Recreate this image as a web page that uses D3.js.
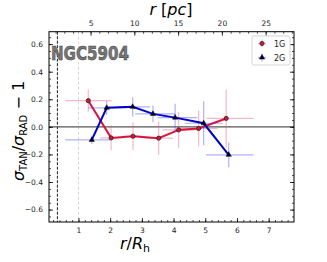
<!DOCTYPE html>
<html>
<head>
<meta charset="utf-8">
<script src="https://cdn.jsdelivr.net/npm/d3@7"></script>
<style>
  body { margin: 0; background: #fff; }
  text { font-family: "DejaVu Sans", sans-serif; }
</style>
</head>
<body>
<div id="chart"></div>
<script>
// r/Rh positions, values and errors for the two populations
const x1G = [1.31, 2.03, 2.72, 3.53, 4.16, 4.79, 5.66];
const y1G = [0.19, -0.08, -0.068, -0.082, -0.022, -0.012, 0.061];
const xlo1G = [0.73, 0.35, 0.3, 0.45, 0.5, 0.6, 0.62];
const xhi1G = [0.74, 0.35, 0.3, 0.45, 0.5, 0.6, 0.86];
const ye1G = [0.08, 0.09, 0.1, 0.12, 0.13, 0.13, 0.21];

const x2G = [1.42, 1.89, 2.71, 3.35, 4.05, 4.95, 5.74];
const y2G = [-0.095, 0.138, 0.145, 0.094, 0.067, 0.026, -0.203];
const xlo2G = [0.84, 0.58, 0.45, 0.56, 0.55, 0.6, 0.72];
const xhi2G = [0.6, 0.64, 0.55, 0.7, 0.7, 0.6, 0.78];
const ye2G = [0.03, 0.05, 0.07, 0.06, 0.1, 0.16, 0.09];

const xTicks = [1, 2, 3, 4, 5, 6, 7];
const pcTicks = [5, 10, 15, 20, 25];
const yTicks = [-0.6, -0.4, -0.2, 0.0, 0.2, 0.4, 0.6];
const Rh = 3.62;   // pc per half-light radius
const rCore = 0.335; // dashed black line

const W = 327, H = 262;
const mLeft = 49, mRight = 294, mTop = 31.7, mBottom = 222;

const svg = d3.select("#chart").append("svg")
    .attr("width", W).attr("height", H);

const x = d3.scaleLinear().domain([0.07, 7.8]).range([mLeft, mRight]);
const xpc = d3.scaleLinear().domain([0.07 * Rh, 7.8 * Rh]).range([mLeft, mRight]);
const y = d3.scaleLinear().domain([-0.69, 0.69]).range([mBottom, mTop]);

// minor tick helper
function minor(g, scale, step, orient) {
    let [a, b] = scale.domain();
    let vals = d3.range(Math.ceil(a / step) * step, b, step);
    let ax = orient(scale).tickValues(vals).tickSize(-2).tickFormat("");
    g.call(ax);
    g.select(".domain").remove();
    g.selectAll("line").attr("stroke", "#000").attr("stroke-width", 0.7);
}

// reference lines
svg.append("line")
    .attr("x1", x(1)).attr("x2", x(1)).attr("y1", mTop).attr("y2", mBottom)
    .attr("stroke", "#ccc").attr("stroke-width", 0.8).attr("stroke-dasharray", "3,2");
svg.append("line")
    .attr("x1", x(rCore)).attr("x2", x(rCore)).attr("y1", mTop).attr("y2", mBottom)
    .attr("stroke", "#000").attr("stroke-width", 0.9).attr("stroke-dasharray", "3,1.5");
svg.append("line")
    .attr("x1", mLeft).attr("x2", mRight).attr("y1", y(0)).attr("y2", y(0))
    .attr("stroke", "#555").attr("stroke-width", 1.4);

// title text
svg.append("text")
    .attr("x", 51).attr("y", 59.5)
    .attr("font-size", 20).attr("font-weight", "bold")
    .attr("textLength", 78).attr("lengthAdjust", "spacingAndGlyphs")
    .attr("fill", "#777").attr("stroke", "#444").attr("stroke-width", 0.6)
    .text("NGC5904");

function drawSeries(xs, ys, xlo, xhi, ye, color, errColor) {
    let data = xs.map((d, i) => ({x: d, y: ys[i], lo: xlo[i], hi: xhi[i], e: ye[i]}));
    let g = svg.append("g");
    g.selectAll(".xe").data(data).enter().append("line")
        .attr("x1", d => x(d.x - d.lo)).attr("x2", d => x(d.x + d.hi))
        .attr("y1", d => y(d.y)).attr("y2", d => y(d.y))
        .attr("stroke", errColor).attr("stroke-opacity", 0.4).attr("stroke-width", 1.2);
    g.selectAll(".ye").data(data).enter().append("line")
        .attr("x1", d => x(d.x)).attr("x2", d => x(d.x))
        .attr("y1", d => y(d.y - d.e)).attr("y2", d => y(d.y + d.e))
        .attr("stroke", errColor).attr("stroke-opacity", 0.4).attr("stroke-width", 1.2);
    g.append("path").datum(data)
        .attr("d", d3.line().x(d => x(d.x)).y(d => y(d.y)))
        .attr("fill", "none").attr("stroke", color).attr("stroke-width", 2);
    return {g, data};
}

let s1 = drawSeries(x1G, y1G, xlo1G, xhi1G, ye1G, "#dc143c", "#e8506e");
let s2 = drawSeries(x2G, y2G, xlo2G, xhi2G, ye2G, "#0000cd", "#3a3aff");

const tri = d3.symbol().type(d3.symbolTriangle).size(12);
s2.g.selectAll(".m").data(s2.data).enter().append("path")
    .attr("d", tri)
    .attr("transform", d => `translate(${x(d.x)},${y(d.y)})`)
    .attr("fill", "#000033").attr("stroke", "#000").attr("stroke-width", 0.5);
s1.g.selectAll(".m").data(s1.data).enter().append("circle")
    .attr("cx", d => x(d.x)).attr("cy", d => y(d.y)).attr("r", 2.1)
    .attr("fill", "#dc143c").attr("stroke", "#222").attr("stroke-width", 0.8);

// axes
const tickStyle = g => {
    g.select(".domain").remove();
    g.selectAll("line").attr("stroke", "#000").attr("stroke-width", 0.8);
    g.selectAll("text").attr("font-size", 7.5).attr("fill", "#222");
};

let gb = svg.append("g").attr("transform", `translate(0,${mBottom})`);
minor(gb, x, 0.2, d3.axisBottom);
svg.append("g").attr("transform", `translate(0,${mBottom})`)
    .call(d3.axisBottom(x).tickValues(xTicks).tickSize(-4).tickPadding(6).tickFormat(d3.format("d")))
    .call(tickStyle);

let gt = svg.append("g").attr("transform", `translate(0,${mTop})`);
minor(gt, xpc, 1, d3.axisTop);
svg.append("g").attr("transform", `translate(0,${mTop})`)
    .call(d3.axisTop(xpc).tickValues(pcTicks).tickSize(-4).tickPadding(6).tickFormat(d3.format("d")))
    .call(tickStyle);

let gl = svg.append("g").attr("transform", `translate(${mLeft},0)`);
minor(gl, y, 0.05, d3.axisLeft);
svg.append("g").attr("transform", `translate(${mLeft},0)`)
    .call(d3.axisLeft(y).tickValues(yTicks).tickSize(-4).tickPadding(6)
        .tickFormat(d => d3.format(".1f")(d).replace("-", "\u2212")))
    .call(tickStyle);

let gr = svg.append("g").attr("transform", `translate(${mRight},0)`);
minor(gr, y, 0.05, d3.axisRight);
svg.append("g").attr("transform", `translate(${mRight},0)`)
    .call(d3.axisRight(y).tickValues(yTicks).tickSize(-4).tickFormat(""))
    .call(tickStyle);

// frame
svg.append("rect")
    .attr("x", mLeft).attr("y", mTop).attr("width", mRight - mLeft).attr("height", mBottom - mTop)
    .attr("fill", "none").attr("stroke", "#000").attr("stroke-width", 1);

// axis labels
let xl = svg.append("text").attr("x", 135).attr("y", 249)
    .attr("text-anchor", "middle").attr("font-size", 16);
xl.append("tspan").attr("font-style", "italic").text("r");
xl.append("tspan").text("/");
xl.append("tspan").attr("font-style", "italic").text("R");
xl.append("tspan").attr("font-size", 11).attr("dy", 3).text("h");

let tl = svg.append("text").attr("x", 171).attr("y", 15)
    .attr("text-anchor", "middle").attr("font-size", 16);
tl.append("tspan").attr("font-style", "italic").text("r");
tl.append("tspan").text(" [");
tl.append("tspan").attr("font-style", "italic").text("pc");
tl.append("tspan").text("]");

let yl = svg.append("text")
    .attr("transform", "translate(24,131) rotate(-90)")
    .attr("text-anchor", "middle").attr("font-size", 16);
yl.append("tspan").attr("font-style", "italic").text("σ");
yl.append("tspan").attr("font-size", 10).attr("dy", 3).text("TAN");
yl.append("tspan").attr("dy", -3).text("/");
yl.append("tspan").attr("font-style", "italic").text("σ");
yl.append("tspan").attr("font-size", 10).attr("dy", 3).text("RAD");
yl.append("tspan").attr("dy", -3).text(" \u2212 1");

// legend
const legend = svg.append("g");
legend.append("rect")
    .attr("x", 252).attr("y", 36).attr("width", 38).attr("height", 29).attr("rx", 2)
    .attr("fill", "#fff").attr("fill-opacity", 0.8).attr("stroke", "#ccc").attr("stroke-width", 0.8);
const legItems = [
    {label: "1G", color: "#e8506e", y: 43.5},
    {label: "2G", color: "#3a3aff", y: 57.5}
];
legItems.forEach((d, i) => {
    let cx = 262;
    legend.append("line").attr("x1", cx - 4).attr("x2", cx + 4).attr("y1", d.y).attr("y2", d.y)
        .attr("stroke", d.color).attr("stroke-opacity", 0.4).attr("stroke-width", 1.2);
    legend.append("line").attr("x1", cx).attr("x2", cx).attr("y1", d.y - 4).attr("y2", d.y + 4)
        .attr("stroke", d.color).attr("stroke-opacity", 0.4).attr("stroke-width", 1.2);
    if (i == 0) {
        legend.append("circle").attr("cx", cx).attr("cy", d.y).attr("r", 2.1)
            .attr("fill", "#dc143c").attr("stroke", "#222").attr("stroke-width", 0.8);
    } else {
        legend.append("path").attr("d", tri).attr("transform", `translate(${cx},${d.y})`)
            .attr("fill", "#000033").attr("stroke", "#000").attr("stroke-width", 0.5);
    }
    legend.append("text").attr("x", 274).attr("y", d.y + 3)
        .attr("font-size", 8).attr("fill", "#222").text(d.label);
});
</script>
</body>
</html>
